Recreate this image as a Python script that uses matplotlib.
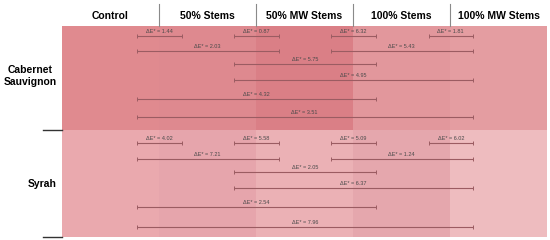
import matplotlib.pyplot as plt
from matplotlib.patches import Rectangle

plt.rcParams['font.family'] = ['Liberation Sans', 'DejaVu Sans']

treatments = ["Control", "50% Stems", "50% MW Stems", "100% Stems", "100% MW Stems"]
groups = ["Cabernet\nSauvignon", "Syrah"]

# comparison bars: start / end in column units, one list per wine
starts = [0.77, 1.77, 2.77, 3.78, 0.77, 2.77, 1.77, 1.77, 0.77, 0.77]
ends = [1.235, 2.235, 3.235, 4.235, 2.235, 4.235, 3.235, 4.235, 3.235, 4.235]
rows = [0, 0, 0, 0, 1, 1, 2, 3, 4, 5]
cab_de = [1.44, 0.87, 6.32, 1.81, 2.03, 5.43, 5.75, 4.95, 4.32, 3.51]
syr_de = [4.02, 5.58, 5.09, 6.02, 7.21, 1.24, 2.05, 6.37, 2.54, 7.96]

# vertical layout (pixel rows from top)
panel_top, panel_mid, panel_bot = 26, 130, 237
cab_y = [36, 51, 64, 80, 99, 117]
syr_y = [143, 159, 172, 188, 207, 227]

cell_colors = [
    ["#e08a8f", "#de898f", "#da7f86", "#e2979c", "#e49da1"],
    ["#eaa9ae", "#e6a5ac", "#ebb1b5", "#e5a7ad", "#eebcbf"],
]

fig = plt.figure(figsize=(5.5, 2.4), dpi=100)
ax = fig.add_axes([62 / 550, (240 - panel_bot) / 240, 485 / 550, (panel_bot - panel_top) / 240])
ax.set_xlim(0, 5)
ax.set_ylim(panel_bot, panel_top)
ax.axis("off")

bands = [(panel_top, panel_mid), (panel_mid, panel_bot)]
for g, (y0, y1) in enumerate(bands):
    for c in range(5):
        ax.add_patch(Rectangle((c, y0), 1, y1 - y0, color=cell_colors[g][c], lw=0))

line_col = "#9b5c62"
for values, ys in [(cab_de, cab_y), (syr_de, syr_y)]:
    for s, e, r, v in zip(starts, ends, rows, values):
        y = ys[r]
        ax.plot([s, e], [y, y], color=line_col, lw=0.8, solid_capstyle="butt")
        ax.plot([s, e], [y, y], ls="none", marker="|", ms=3, mew=0.7, color=line_col)
        ax.text((s + e) / 2, y - 2.2, f"ΔE* = {v:.2f}", ha="center", va="bottom",
                fontsize=4, color="#4a4a4a")

# column headers and separators
for c, name in enumerate(treatments):
    ax.text(c + 0.5, 16, name, ha="center", va="center", fontsize=7.5,
            fontweight="bold", clip_on=False)
for c in range(1, 5):
    ax.plot([c, c], [4, panel_top], color="#8a8a8a", lw=0.8, clip_on=False)

# row labels
ax.text(-0.33, 76, groups[0], ha="center", va="center", fontsize=7.5,
        fontweight="bold", linespacing=1.25, clip_on=False)
ax.text(-0.2, 184, groups[1], ha="center", va="center", fontsize=7.5,
        fontweight="bold", clip_on=False)
for y in [panel_mid + 0.5, panel_bot]:
    ax.plot([-0.2, 0], [y, y], color="#333333", lw=1, clip_on=False)

fig.savefig("out.png", dpi=100)
